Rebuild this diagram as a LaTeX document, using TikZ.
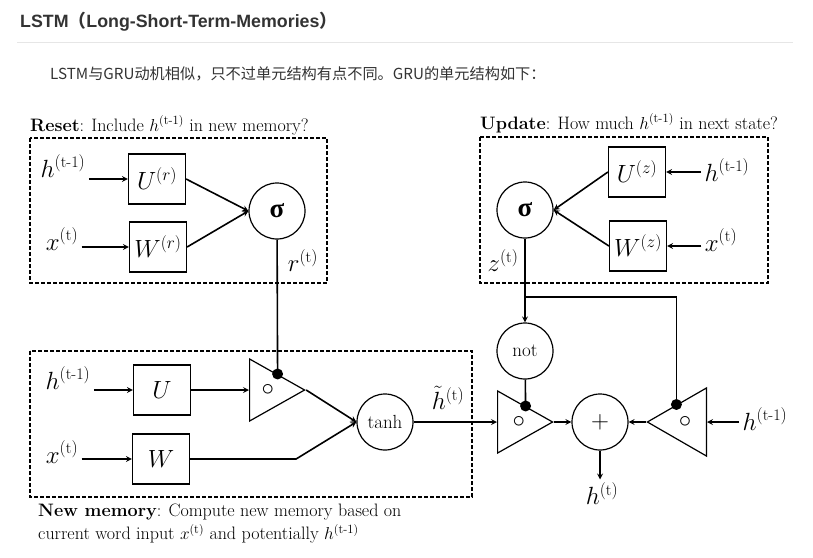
\documentclass[tikz,border=0pt]{standalone}
\usepackage{amsmath}
\usepackage{fontspec}
\usetikzlibrary{shapes, arrows, calc}
\newfontfamily\cjk{Noto Sans CJK SC}
\newfontfamily\headfont{Liberation Sans}
\newfontfamily\greekfont{Liberation Serif}
\definecolor{webtext}{HTML}{333333}
\definecolor{rulegray}{HTML}{E6E6E6}
\tikzstyle{wbox} = [rectangle, draw=black, line width=1.2pt, minimum width=57pt, minimum height=50pt, inner sep=0pt, font=\fontsize{23}{26}\selectfont]
\tikzstyle{op} = [circle, draw=black, line width=1.2pt, minimum size=56pt, inner sep=0pt]
\tikzstyle{gate} = [isosceles triangle, isosceles triangle stretches, draw=black, line width=1.2pt, minimum height=55pt, minimum width=62pt, inner sep=0pt]
\tikzstyle{region} = [draw=black, line width=1.3pt, dash pattern=on 4pt off 2pt]
\tikzstyle{lbl} = [font=\fontsize{23}{26}\selectfont]
\tikzstyle{note} = [font=\fontsize{18}{23}\selectfont, align=left]
\tikzstyle{arrow} = [line width=1.6pt,->,>=stealth]
\tikzstyle{wire} = [line width=1.6pt]
\newcommand{\hprev}{$h^{(\text{t-1})}$}
\newcommand{\xnow}{$x^{(\text{t})}$}
\newcommand{\sigmaop}{{\greekfont\bfseries\fontsize{27}{27}\selectfont σ}}

\begin{document}
\begin{tikzpicture}[x=1pt, y=-1pt]
\useasboundingbox[fill=white] (0,0) rectangle (813,557);

\node[anchor=base west, inner sep=0pt, text=webtext, font=\headfont\bfseries\fontsize{17.8}{20}\selectfont] (heading) at (20,27) {LSTM{\cjk （}Long-Short-Term-Memories{\cjk ）}};
\draw[rulegray, line width=1pt] (17,42) -- (793,42);
\node[anchor=base west, inner sep=0pt, text=webtext, font=\cjk\fontsize{15.2}{17}\selectfont] (intro) at (50,79) {LSTM与GRU动机相似，只不过单元结构有点不同。GRU的单元结构如下：};

% reset gate
\draw[region] (30,138) rectangle (327,283);
\node[note, anchor=base west, inner sep=0pt] (resetcap) at (30,131) {\textbf{Reset}: Include $h^{(\text{t-1})}$ in new memory?};
\node[lbl, anchor=base] (hr) at (63,177) {\hprev};
\node[lbl, anchor=base] (xr) at (62,250) {\xnow};
\node[wbox] (ur) at (157,179) {$U^{(r)}$};
\node[wbox] (wr) at (158,247) {$W^{(r)}$};
\node[op] (sr) at (277,211) {\sigmaop};
\node[lbl] (rt) at (303,261) {$r^{(\text{t})}$};
\draw[arrow] (hr.east |- ur) -- (ur);
\draw[arrow] (xr.east |- wr) -- (wr);
\draw[arrow] (ur.east) -- (sr.west);
\draw[arrow] (wr.east) -- (sr.west);

% update gate
\draw[region] (480,137) rectangle (768,283);
\node[note, anchor=base west, inner sep=0pt] (updatecap) at (480,129) {\textbf{Update}: How much $h^{(\text{t-1})}$ in next state?};
\node[lbl, anchor=base] (hz) at (727,181) {\hprev};
\node[lbl, anchor=base] (xz) at (721,251) {\xnow};
\node[wbox] (uz) at (637,172) {$U^{(z)}$};
\node[wbox] (wz) at (638,246) {$W^{(z)}$};
\node[op] (sz) at (525,210) {\sigmaop};
\node[lbl] (zt) at (503,261) {$z^{(\text{t})}$};
\draw[arrow] (hz.west |- uz) -- (uz);
\draw[arrow] (xz.west |- wz) -- (wz);
\draw[arrow] (uz.west) -- (sz.east);
\draw[arrow] (wz.west) -- (sz.east);

% new memory
\draw[region] (30,351) rectangle (472,497);
\node[note, anchor=north west, inner sep=0pt] (memcap) at (38,504) {\textbf{New memory}: Compute new memory based on\\current word input $x^{(\text{t})}$ and potentially $h^{(\text{t-1})}$};
\node[lbl, anchor=base] (hn) at (68,389) {\hprev};
\node[lbl, anchor=base] (xn) at (62,463) {\xnow};
\node[wbox] (u) at (162,390) {$U$};
\node[wbox] (w) at (161,459) {$W$};
\node[gate, anchor=lower side] (g1) at (249,390) {};
\node[lbl] (c1) at ($(g1.lower side)!0.33!(g1.apex)$) {$\circ$};
\node[op, font=\fontsize{19}{20}\selectfont] (tanh) at (385,422) {tanh};
\node[lbl, inner sep=1pt] (ht) at (448,398) {$\tilde{h}^{(\text{t})}$};
\draw[arrow] (hn.east |- u) -- (u);
\draw[arrow] (xn.east |- w) -- (w);
\draw[arrow] (u) -- (g1.lower side);
\draw[arrow] (g1.apex) -- (tanh.west);
\draw[arrow] (w.east) -- ++(106,0) -- (tanh.west);
\draw[wire] (sr) -- (g1.left side);
\fill (g1.left side) circle (5.5pt);

% output
\node[op, font=\fontsize{19}{20}\selectfont] (not) at (525,351) {not};
\node[gate, anchor=lower side] (g2) at (497,422) {};
\node[lbl] (c2) at ($(g2.lower side)!0.38!(g2.apex)$) {$\circ$};
\node[op, font=\fontsize{26}{26}\selectfont] (plus) at (600,422) {$+$};
\node[gate, shape border rotate=180, minimum height=59pt, minimum width=68pt, anchor=lower side] (g3) at (707,422) {};
\node[lbl] (c3) at ($(g3.lower side)!0.36!(g3.apex)$) {$\circ$};
\node[lbl, anchor=base] (hp) at (765,430) {\hprev};
\node[lbl] (hnew) at (602,494) {$h^{(\text{t})}$};
\draw[arrow] (tanh.east) -- (g2.lower side);
\draw[arrow] (sz) -- (not);
\draw[wire] (not) -- (g2.left side);
\fill (g2.left side) circle (5.5pt);
\draw[wire] (525,297) -| (g3.right side);
\fill (g3.right side) circle (5.5pt);
\draw[arrow] (g2.apex) -- (plus.west);
\draw[arrow] (g3.apex) -- (plus.east);
\draw[arrow] (hp.west |- g3.lower side) -- (g3.lower side);
\draw[arrow] (plus.south) -- (plus.south |- hnew.north);
\end{tikzpicture}
\end{document}
